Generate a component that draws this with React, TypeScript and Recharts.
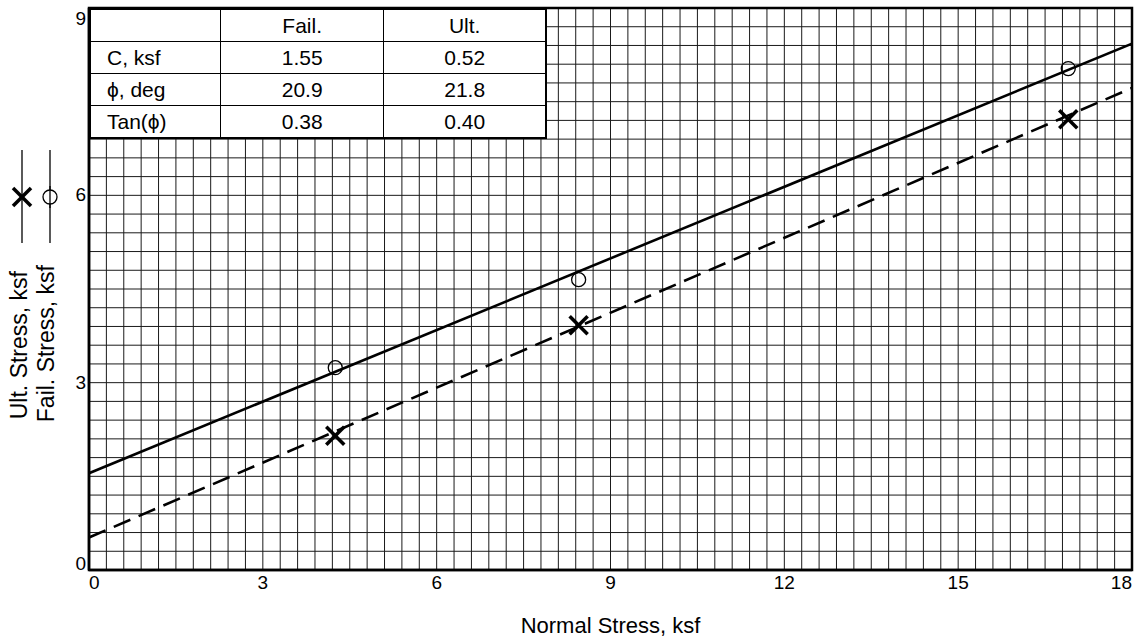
import React from "react";
import {
  ComposedChart,
  Line,
  Scatter,
  XAxis,
  YAxis,
  CartesianGrid,
  ReferenceArea,
} from "recharts";

// Test points (normal stress vs shear stress, ksf)
const failPoints = [
  { x: 4.25, y: 3.24 },
  { x: 8.45, y: 4.65 },
  { x: 16.9, y: 8.03 },
];
const ultPoints = [
  { x: 4.25, y: 2.15 },
  { x: 8.45, y: 3.92 },
  { x: 16.9, y: 7.22 },
];

// Fitted envelopes, end points at the axis limits
const failFit = [
  { x: 0, y: 1.55 },
  { x: 18, y: 8.43 },
];
const ultFit = [
  { x: 0, y: 0.52 },
  { x: 18, y: 7.72 },
];

const tableHead = ["", "Fail.", "Ult."];
const tableRows = [
  ["C, ksf", "1.55", "0.52"],
  ["ϕ, deg", "20.9", "21.8"],
  ["Tan(ϕ)", "0.38", "0.40"],
];

// grid every 0.3 ksf, labels every 3
const xTicks = Array.from({ length: 61 }, (_, i) => Math.round(i * 3) / 10);
const yTicks = Array.from({ length: 31 }, (_, i) => Math.round(i * 3) / 10);

const FONT = "'Liberation Sans', Arial, Helvetica, sans-serif";

const isMajor = (v: number) => Math.abs(v / 3 - Math.round(v / 3)) < 1e-6;

const XTick = (props: any) => {
  const { x, y, payload } = props;
  const v = payload.value;
  if (!isMajor(v)) return <g />;
  let anchor: "start" | "middle" | "end" = "middle";
  if (v === 0) anchor = "start";
  if (v === 18) anchor = "end";
  return (
    <text x={x} y={y} dy={15} textAnchor={anchor} fontSize={19} fill="#000" fontFamily={FONT}>
      {v}
    </text>
  );
};

const YTick = (props: any) => {
  const { x, y, payload } = props;
  const v = payload.value;
  if (!isMajor(v)) return <g />;
  let dy = 6;
  if (v === 0) dy = 0;
  if (v === 9) dy = 17;
  return (
    <text x={x} y={y} dy={dy} textAnchor="end" fontSize={19} fill="#000" fontFamily={FONT}>
      {v}
    </text>
  );
};

const CircleMark = (props: any) => {
  const { cx, cy } = props;
  return <circle cx={cx} cy={cy} r={7} fill="none" stroke="#000" strokeWidth={1.3} />;
};

const CrossMark = (props: any) => {
  const { cx, cy } = props;
  const s = 9;
  return (
    <g stroke="#000" strokeWidth={3.5} strokeLinecap="butt">
      <line x1={cx - s} y1={cy - s} x2={cx + s} y2={cy + s} />
      <line x1={cx - s} y1={cy + s} x2={cx + s} y2={cy - s} />
    </g>
  );
};

const cell: React.CSSProperties = {
  border: "1.5px solid #000",
  padding: 0,
  height: 31,
  textAlign: "center",
  fontSize: 21,
};

export default function App() {
  return (
    <div style={{ position: "relative", width: 1138, height: 639, background: "#fff", fontFamily: FONT }}>
      <style>{`body{margin:0}`}</style>
      <ComposedChart
        width={1138}
        height={639}
        margin={{ top: 8, right: 6, bottom: 0, left: 0 }}
      >
        <CartesianGrid stroke="#1a1a1a" strokeWidth={1} />
        <XAxis
          dataKey="x"
          type="number"
          domain={[0, 18]}
          ticks={xTicks}
          interval={0}
          tick={<XTick />}
          tickLine={false}
          tickSize={0}
          tickMargin={4}
          height={69}
          axisLine={{ stroke: "#000", strokeWidth: 2.5 }}
          allowDataOverflow
          label={{
            value: "Normal Stress, ksf",
            position: "insideBottom",
            offset: 6,
            fontSize: 22,
            fill: "#000",
            fontFamily: FONT,
          }}
        />
        <YAxis
          type="number"
          domain={[0, 9]}
          ticks={yTicks}
          interval={0}
          tick={<YTick />}
          tickLine={false}
          tickSize={0}
          tickMargin={3}
          width={89}
          axisLine={{ stroke: "#000", strokeWidth: 2.5 }}
          allowDataOverflow
        />
        <ReferenceArea
          x1={0}
          x2={18}
          y1={0}
          y2={9}
          fill="none"
          stroke="#000"
          strokeWidth={2.5}
          ifOverflow="visible"
        />
        <Line
          data={failFit}
          dataKey="y"
          type="linear"
          stroke="#000"
          strokeWidth={2.6}
          dot={false}
          isAnimationActive={false}
        />
        <Line
          data={ultFit}
          dataKey="y"
          type="linear"
          stroke="#000"
          strokeWidth={2.6}
          strokeDasharray="18 9"
          dot={false}
          isAnimationActive={false}
        />
        <Scatter data={failPoints} dataKey="y" shape={<CircleMark />} isAnimationActive={false} />
        <Scatter data={ultPoints} dataKey="y" shape={<CrossMark />} isAnimationActive={false} />
      </ComposedChart>

      {/* parameter table in the upper-left corner of the plot */}
      <table
        style={{
          position: "absolute",
          left: 89,
          top: 8,
          width: 458,
          height: 131,
          borderCollapse: "collapse",
          background: "#fff",
          border: "2px solid #000",
          fontFamily: FONT,
          color: "#000",
        }}
      >
        <colgroup>
          <col style={{ width: 131 }} />
          <col style={{ width: 164 }} />
          <col style={{ width: 163 }} />
        </colgroup>
        <tbody>
          <tr>
            {tableHead.map((h, i) => (
              <td key={i} style={cell}>
                {h}
              </td>
            ))}
          </tr>
          {tableRows.map((r, ri) => (
            <tr key={ri}>
              {r.map((c, ci) => (
                <td key={ci} style={ci === 0 ? { ...cell, textAlign: "left", paddingLeft: 16 } : cell}>
                  {c}
                </td>
              ))}
            </tr>
          ))}
        </tbody>
      </table>

      {/* y-axis titles with legend symbols */}
      <svg style={{ position: "absolute", left: 0, top: 0 }} width={80} height={480}>
        <line x1={22} y1={150} x2={22} y2={243} stroke="#000" strokeWidth={1.3} />
        <CrossMark cx={22} cy={197} />
        <line x1={50} y1={150} x2={50} y2={243} stroke="#000" strokeWidth={1.3} />
        <circle cx={50} cy={197} r={7} fill="#fff" stroke="#000" strokeWidth={1.3} />
        <line x1={50} y1={186} x2={50} y2={208} stroke="#000" strokeWidth={1.3} />
        <text
          x={0}
          y={0}
          transform="translate(27,271) rotate(-90)"
          textAnchor="end"
          fontSize={23}
          fill="#000"
          fontFamily={FONT}
        >
          Ult. Stress, ksf
        </text>
        <text
          x={0}
          y={0}
          transform="translate(54,265) rotate(-90)"
          textAnchor="end"
          fontSize={23}
          fill="#000"
          fontFamily={FONT}
        >
          Fail. Stress, ksf
        </text>
      </svg>
    </div>
  );
}
